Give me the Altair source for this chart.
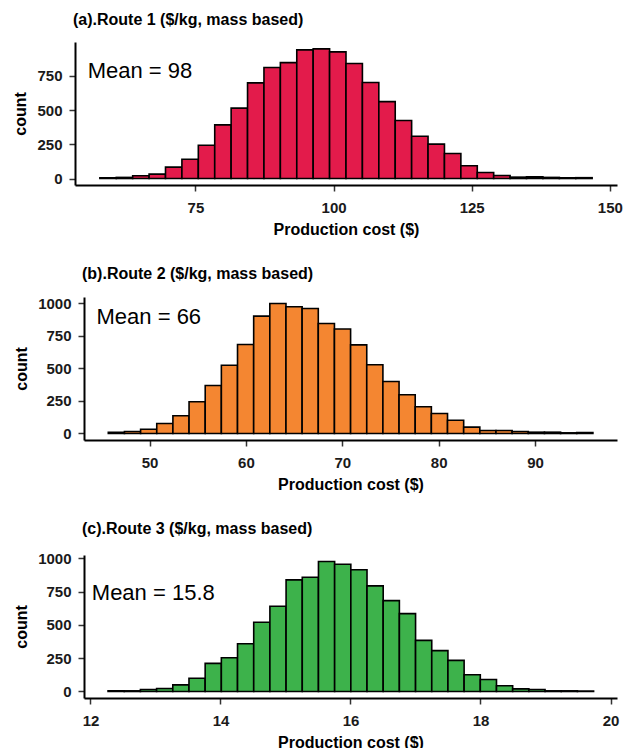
import altair as alt
import pandas as pd

FONT = "Liberation Sans"

# ---- values ----
route1_counts = [5, 8, 20, 32, 83, 141, 243, 392, 514, 699, 811, 847, 940, 947, 925,
                 840, 701, 562, 424, 309, 251, 183, 93, 44, 22, 10, 12, 8, 5, 6]
route1_bin_start = 57.7
route1_bin_width = 2.97

route2_counts = [10, 15, 33, 77, 136, 243, 368, 524, 683, 900, 997, 972, 959, 844, 801,
                 680, 527, 399, 297, 205, 153, 102, 49, 23, 23, 15, 10, 10, 5, 8]
route2_bin_start = 45.72
route2_bin_width = 1.676

route3_counts = [5, 5, 15, 23, 50, 100, 211, 254, 359, 520, 641, 839, 859, 977, 956,
                 915, 794, 683, 585, 384, 307, 234, 126, 90, 43, 20, 15, 5, 5, 3]
route3_bin_start = 12.27
route3_bin_width = 0.249

titles = ["(a).Route 1 ($/kg, mass based)",
          "(b).Route 2 ($/kg, mass based)",
          "(c).Route 3 ($/kg, mass based)"]
mean_labels = ["Mean = 98", "Mean = 66", "Mean = 15.8"]
mean_pos_x = [55.5, 44.5, 12.02]
mean_pos_y = [738, 838, 691]
colors = ["#E31B4B", "#F48631", "#3DB24B"]

x_domains = [[53.2, 151.3], [43.2, 98.5], [11.9, 20.1]]
x_ticks = [[75, 100, 125, 150], [50, 60, 70, 80, 90], [12, 14, 16, 18, 20]]
y_domains = [[-47.5, 997.5], [-50, 1047], [-48.9, 1026]]
y_ticks = [[0, 250, 500, 750], [0, 250, 500, 750, 1000], [0, 250, 500, 750, 1000]]

# layout: all panels share one cell width; panels b and c start a bit further right
PANEL_W = 542
PANEL_H = 143
left_shift = [0, 9, 9]


def panel(i, counts, start, width):
    lo = [start + k * width for k in range(len(counts))]
    hi = [start + (k + 1) * width for k in range(len(counts))]
    df = pd.DataFrame({"lo": lo, "hi": hi, "count": counts, "base": [0] * len(counts)})
    xscale = alt.Scale(domain=x_domains[i], range=[left_shift[i], PANEL_W],
                       nice=False, zero=False)
    yscale = alt.Scale(domain=y_domains[i], nice=False, zero=False)
    bars = alt.Chart(df).mark_rect(
        fill=colors[i], stroke="black", strokeWidth=1.6
    ).encode(
        x=alt.X("lo:Q", scale=xscale,
                axis=alt.Axis(values=x_ticks[i], title="Production cost ($)", format="d")),
        x2="hi:Q",
        y=alt.Y("count:Q", scale=yscale,
                axis=alt.Axis(values=y_ticks[i], title="count", format="d",
                              offset=-left_shift[i])),
        y2="base:Q",
    )
    tdf = pd.DataFrame({"x": [mean_pos_x[i]], "y": [mean_pos_y[i]], "t": [mean_labels[i]]})
    txt = alt.Chart(tdf).mark_text(
        align="left", baseline="alphabetic", fontSize=22, font=FONT, color="black"
    ).encode(x=alt.X("x:Q", scale=xscale, axis=None),
             y=alt.Y("y:Q", scale=yscale, axis=None), text="t:N")
    return alt.layer(bars, txt).resolve_axis(
        x="independent", y="independent"
    ).properties(
        width=PANEL_W, height=PANEL_H,
        title=alt.TitleParams(titles[i], anchor="start", frame="group", fontSize=16,
                              font=FONT, fontWeight="bold", color="black",
                              baseline="alphabetic", offset=1, dx=left_shift[i] - 2),
    )


a = panel(0, route1_counts, route1_bin_start, route1_bin_width)
b = panel(1, route2_counts, route2_bin_start, route2_bin_width)
c = panel(2, route3_counts, route3_bin_start, route3_bin_width)

chart = alt.vconcat(a, b, c, spacing=29).properties(
    padding={"left": 12, "top": 12, "right": 0, "bottom": 0}
).configure_axis(
    grid=False, domainColor="black", domainWidth=2, tickColor="#333333",
    tickWidth=1.5, tickSize=6, labelFont=FONT, labelFontSize=15,
    labelFontWeight="bold", labelColor="#1a1a1a", titleFont=FONT,
    titleFontSize=16, titleFontWeight="bold", titleColor="black",
    labelFlush=False, labelOverlap=False,
).configure_axisX(labelPadding=9, titlePadding=6).configure_axisY(
    labelPadding=7, titlePadding=8
).configure_view(stroke=None)

chart.save("out.html", embed_options={"renderer": "svg", "actions": False})
